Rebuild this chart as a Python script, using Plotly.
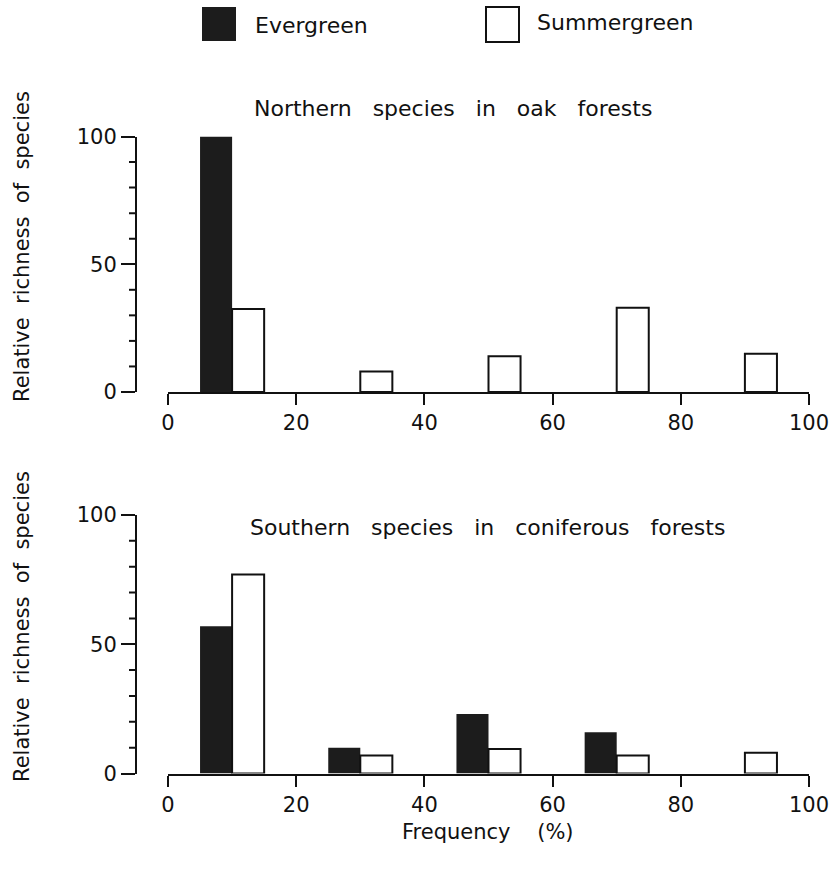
import plotly.graph_objects as go

# ---- data ----
bin_groups = [10, 30, 50, 70, 90]          # frequency classes (%)
north_evergreen = [100, 0, 0, 0, 0]
north_summergreen = [32.5, 8, 14, 33, 15]
south_evergreen = [57, 10, 23, 16, 0]
south_summergreen = [77, 7, 9.5, 7, 8]
x_tick_labels = [0, 20, 40, 60, 80, 100]
y_tick_labels = [0, 50, 100]
y_minor_ticks = [10, 20, 30, 40, 60, 70, 80, 90]

W, H = 834, 872
FONT = "DejaVu Sans"
BLACK = "#111111"
EVER = "#1c1c1c"

def px(x):
    return x / W

def py(y):
    return (H - y) / H

fig = go.Figure()

def add_panel(ev, su, xa, ya):
    fig.add_trace(go.Bar(x=bin_groups, y=ev, offset=-5, width=5,
                         marker=dict(color=EVER, line=dict(color=EVER, width=0)),
                         xaxis=xa, yaxis=ya, showlegend=False, name="Evergreen"))
    fig.add_trace(go.Bar(x=bin_groups, y=su, offset=0, width=5,
                         marker=dict(color="white", line=dict(color=BLACK, width=2)),
                         xaxis=xa, yaxis=ya, showlegend=False, name="Summergreen"))

add_panel(north_evergreen, north_summergreen, "x", "y")
add_panel(south_evergreen, south_summergreen, "x2", "y2")

YPOS = 136        # pixel column of the y-axis line
MINOR_LEN = 7
MAJOR_LEN = 14

xdom = [px(168), px(809)]
common_x = dict(range=[0, 100], domain=xdom, showline=True, linecolor=BLACK, linewidth=2,
                ticks="outside", ticklen=11, tickwidth=2, tickcolor=BLACK,
                tickvals=x_tick_labels, ticktext=[str(v) for v in x_tick_labels],
                showgrid=False, zeroline=False, automargin=False,
                tickfont=dict(family=FONT, size=21, color=BLACK))
common_y = dict(range=[0, 100], anchor="free", position=px(YPOS), showline=True,
                linecolor=BLACK, linewidth=2, ticks="outside", ticklen=MAJOR_LEN, tickwidth=2,
                tickcolor=BLACK, tickvals=y_tick_labels,
                ticktext=[str(v) for v in y_tick_labels],
                showgrid=False, zeroline=False, automargin=False,
                tickfont=dict(family=FONT, size=21, color=BLACK))

fig.update_layout(
    template="none",
    width=W, height=H, margin=dict(l=0, r=0, t=0, b=0, autoexpand=False),
    paper_bgcolor="white", plot_bgcolor="white", barmode="overlay", showlegend=False,
    xaxis=dict(common_x, anchor="y"),
    yaxis=dict(common_y, domain=[py(392), py(136.5)]),
    xaxis2=dict(common_x, anchor="y2"),
    yaxis2=dict(common_y, domain=[py(773.5), py(515)]),
)

# short minor ticks on the y axes
for yref in ("y", "y2"):
    for v in y_minor_ticks:
        fig.add_shape(type="line", xref="paper", yref=yref,
                      x0=px(YPOS - MINOR_LEN), x1=px(YPOS), y0=v, y1=v,
                      line=dict(color=BLACK, width=2), layer="above")

sp = "\u00a0\u00a0\u00a0"
ann = []
ann.append(dict(text=sp.join(["Northern", "species", "in", "oak", "forests"]),
                x=px(453.5), y=py(108), xref="paper", yref="paper",
                xanchor="center", yanchor="middle", showarrow=False,
                font=dict(family=FONT, size=22, color=BLACK)))
ann.append(dict(text=sp.join(["Southern", "species", "in", "coniferous", "forests"]),
                x=px(487), y=py(527), xref="paper", yref="paper",
                xanchor="center", yanchor="middle", showarrow=False,
                font=dict(family=FONT, size=22, color=BLACK)))
ytitle = "\u00a0\u00a0".join(["Relative", "richness", "of", "species"])
for yc in (247, 627):
    ann.append(dict(text=ytitle, x=px(22), y=py(yc), xref="paper", yref="paper",
                    xanchor="center", yanchor="middle", textangle=-90, showarrow=False,
                    font=dict(family=FONT, size=21, color=BLACK)))
ann.append(dict(text="Frequency\u00a0\u00a0\u00a0\u00a0(%)", x=px(488), y=py(832),
                xref="paper", yref="paper", xanchor="center", yanchor="middle",
                showarrow=False, font=dict(family=FONT, size=21, color=BLACK)))
# legend labels
ann.append(dict(text="Evergreen", x=px(253), y=py(26), xref="paper", yref="paper",
                xanchor="left", yanchor="middle", showarrow=False,
                font=dict(family=FONT, size=22, color=BLACK)))
ann.append(dict(text="Summergreen", x=px(535), y=py(22), xref="paper", yref="paper",
                xanchor="left", yanchor="middle", showarrow=False,
                font=dict(family=FONT, size=22, color=BLACK)))
fig.update_layout(annotations=ann)

# legend swatches
fig.add_shape(type="rect", xref="paper", yref="paper", x0=px(202), x1=px(236),
              y0=py(41), y1=py(7), fillcolor=EVER, line=dict(width=0))
fig.add_shape(type="rect", xref="paper", yref="paper", x0=px(486), x1=px(519),
              y0=py(42), y1=py(7), fillcolor="white", line=dict(color=BLACK, width=2))

fig.write_html("out.html")
